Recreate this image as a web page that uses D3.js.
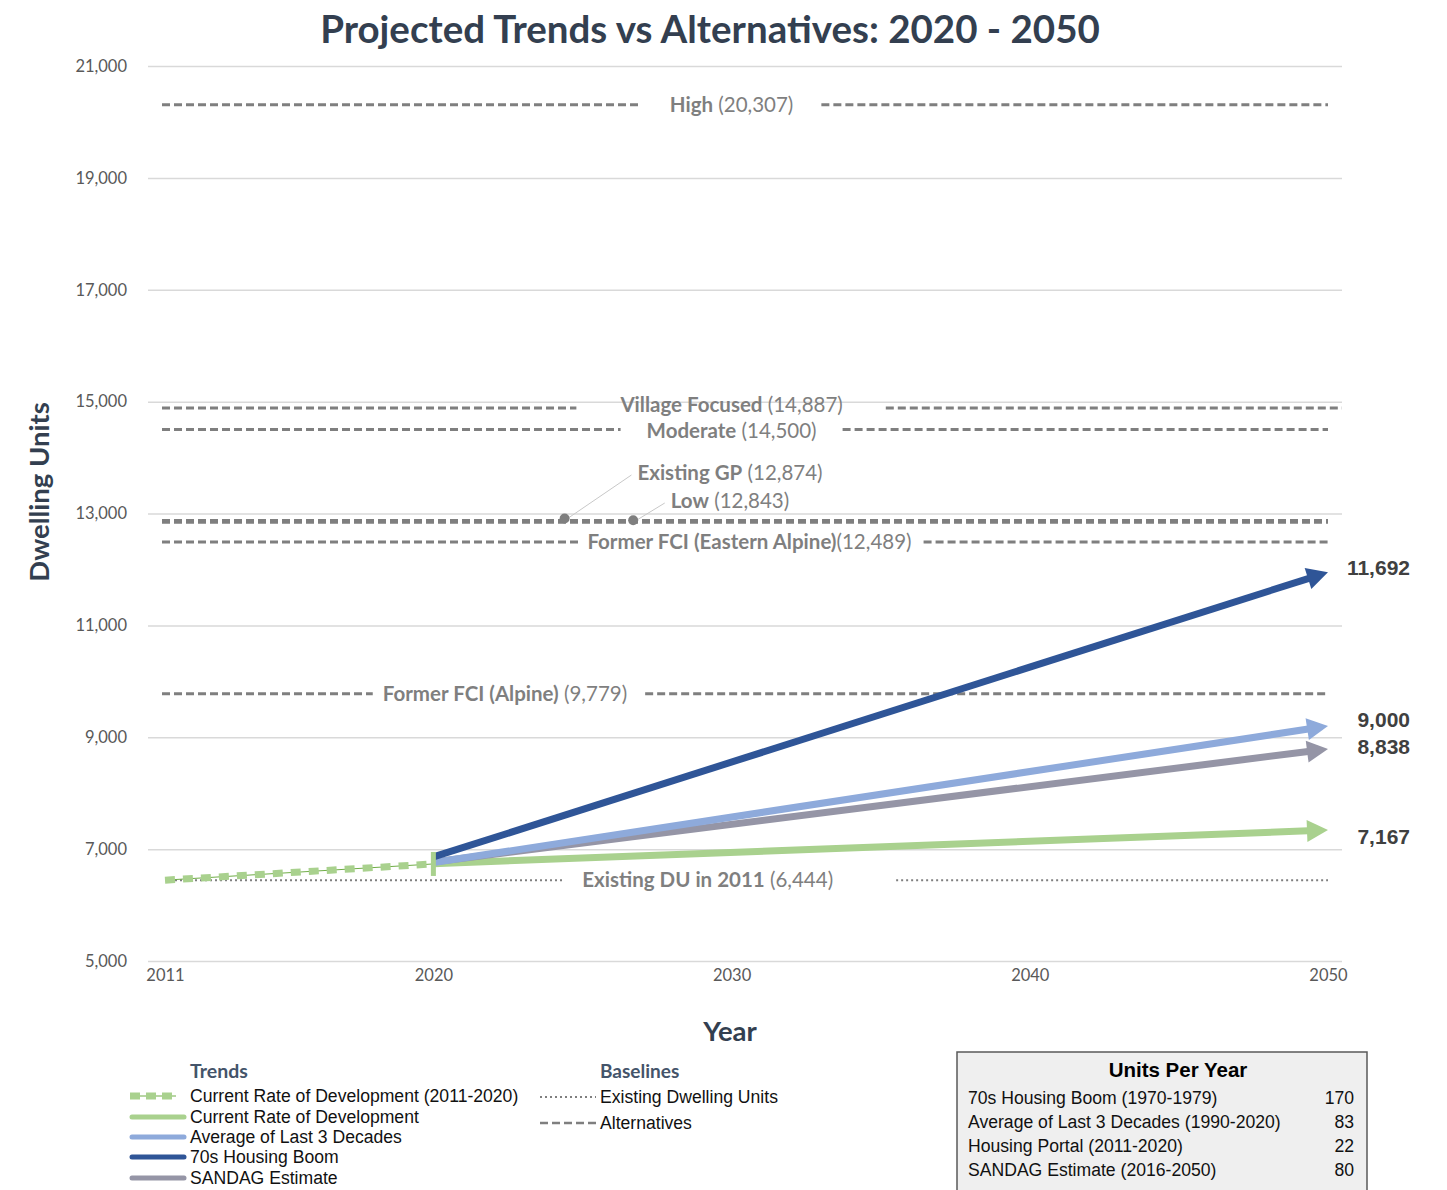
<!DOCTYPE html>
<html>
<head>
<meta charset="utf-8">
<script src="https://cdn.jsdelivr.net/npm/d3@7"></script>
<style>
body { margin: 0; background: #fff; }
svg text { font-family: Lato, "Open Sans", sans-serif; }
.arial { font-family: "Liberation Sans", Arial, sans-serif !important; }
</style>
</head>
<body>
<div id="chart"></div>
<script>
// ---- data ----
var yearTicks = [2011, 2020, 2030, 2040, 2050]
var unitTicks = [5000, 7000, 9000, 11000, 13000, 15000, 17000, 19000, 21000]

var altNames = ['High', 'Village Focused', 'Moderate', 'Existing GP', 'Low', 'Former FCI (Eastern Alpine)', 'Former FCI (Alpine)']
var altValues = [20307, 14887, 14500, 12874, 12843, 12489, 9779]
var altLabels = ['(20,307)', '(14,887)', '(14,500)', '(12,874)', '(12,843)', '(12,489)', '(9,779)']

var existingDU = 6444
var existingLabel = ['Existing DU in 2011', '(6,444)']

// current rate, 2011-2020
var currentYears = [2011, 2020]
var currentValues = [6445, 6735]

// trends, 2020 -> 2050 (drawn bottom to top)
var trendNames = ['Current Rate of Development', 'SANDAG Estimate', 'Average of Last 3 Decades', '70s Housing Boom']
var trendYears = [2020, 2050]
var trendStart = [6740, 6770, 6760, 6860]
var trendEnd = [7340, 8790, 9200, 11950]
var trendEndLabels = ['7,167', '8,838', '9,000', '11,692']

var legendTrends = ['Current Rate of Development (2011-2020)', 'Current Rate of Development', 'Average of Last 3 Decades', '70s Housing Boom', 'SANDAG Estimate']
var legendBaselines = ['Existing Dwelling Units', 'Alternatives']

var rateNames = ['70s Housing Boom (1970-1979)', 'Average of Last 3 Decades (1990-2020)', 'Housing Portal (2011-2020)', 'SANDAG Estimate (2016-2050)']
var rateValues = [170, 83, 22, 80]

// ---- styling ----
var width = 1447, height = 1190
var navy = '#333f50'
var altGray = '#7f7f7f'
var trendColors = ['#a9d18e', '#9595a6', '#8eaadb', '#2f5597']
var legendColors = ['#a9d18e', '#a9d18e', '#8eaadb', '#2f5597', '#9595a6']

// where alternative labels sit (year), a small vertical nudge, and the gap around them (px left, px right)
var altLabelAt = [2030, 2030, 2030, null, null, 2030.6, 2022.4]
var altNudge = [0, -3, 1, 0, 0, 0, 0]
var altGap = [[28, 28], [43, 43], [26, 26], null, null, [8, 12], [10, 18]]
var calloutAt = { 'Existing GP': 2024.4, 'Low': 2026.7 }

var svg = d3.select('#chart').append('svg')
    .attr('width', width)
    .attr('height', height)

var x = d3.scaleLinear().domain([2011, 2050]).range([165, 1328])
var y = d3.scaleLinear().domain([5000, 21000]).range([961, 66])
var gridLeft = 148, gridRight = 1342

// title
svg.append('text')
    .attr('x', 710).attr('y', 30)
    .attr('text-anchor', 'middle').attr('dy', '0.35em')
    .style('font-size', '38.5px').style('font-weight', 700)
    .attr('fill', navy)
    .text('Projected Trends vs Alternatives: 2020 - 2050')

// gridlines + y axis
var yAxis = svg.append('g')
    .attr('transform', 'translate(' + gridLeft + ',0)')
    .call(d3.axisLeft(y).tickValues(unitTicks).tickSize(-(gridRight - gridLeft)).tickPadding(21).tickFormat(d3.format(',')))
yAxis.select('.domain').remove()
yAxis.selectAll('line').attr('stroke', '#d9d9d9').attr('stroke-width', 1.5)
yAxis.selectAll('text').style('font-size', '16.5px').attr('fill', '#595959')

// x axis labels
var xAxis = svg.append('g')
    .attr('transform', 'translate(0,' + y(5000) + ')')
    .call(d3.axisBottom(x).tickValues(yearTicks).tickSize(0).tickPadding(8).tickFormat(d3.format('d')))
xAxis.select('.domain').remove()
xAxis.selectAll('text').style('font-size', '16.5px').attr('fill', '#595959')

// axis titles
svg.append('text')
    .attr('transform', 'translate(39,492) rotate(-90)')
    .attr('text-anchor', 'middle').attr('dy', '0.35em')
    .style('font-size', '27.5px').style('font-weight', 700)
    .attr('fill', navy).text('Dwelling Units')
svg.append('text')
    .attr('x', 730).attr('y', 1031)
    .attr('text-anchor', 'middle').attr('dy', '0.35em')
    .style('font-size', '27.5px').style('font-weight', 700)
    .attr('fill', navy).text('Year')

// label with bold name + normal value
function altText(g, cx, cy, name, val, sep) {
    var t = g.append('text')
        .attr('x', cx).attr('y', cy)
        .attr('text-anchor', 'middle').attr('dy', '0.35em')
        .style('font-size', '20.5px').attr('fill', altGray)
    t.append('tspan').style('font-weight', 700).text(name)
    t.append('tspan').text(sep + val)
    return t
}

// alternatives
var altG = svg.append('g')
altNames.forEach(function (name, i) {
    var yy = y(altValues[i])
    var x0 = 162, x1 = i == 1 ? 1342 : 1328
    var dash = function (a, b) {
        altG.append('line')
            .attr('x1', a).attr('x2', b).attr('y1', yy).attr('y2', yy)
            .attr('stroke', altGray).attr('stroke-width', 3)
            .attr('stroke-dasharray', '8,4')
    }
    if (altLabelAt[i] == null) {
        dash(x0, x1)
        return
    }
    var sep = i == 5 ? '' : ' '
    var t = altText(altG, x(altLabelAt[i]), yy + altNudge[i], name, altLabels[i], sep)
    var bb = t.node().getBBox()
    dash(x0, bb.x - altGap[i][0])
    dash(bb.x + bb.width + altGap[i][1], x1)
})

// callouts for Existing GP / Low
var callouts = [
    { name: 'Existing GP', idx: 3, lx: 730, ly: 473 },
    { name: 'Low', idx: 4, lx: 730, ly: 501 }
]
callouts.forEach(function (c) {
    var t = altText(altG, c.lx, c.ly, c.name, altLabels[c.idx], ' ')
    var bb = t.node().getBBox()
    var px = x(calloutAt[c.name]), py = y(altValues[c.idx])
    altG.append('line')
        .attr('x1', px).attr('y1', py)
        .attr('x2', bb.x - 6).attr('y2', c.ly + 2)
        .attr('stroke', '#c8c8c8').attr('stroke-width', 1)
    altG.append('circle')
        .attr('cx', px).attr('cy', py - 2).attr('r', 5)
        .attr('fill', altGray)
})

// existing dwelling units (dotted)
var exY = y(existingDU)
var exT = altText(altG, x(2029.2), exY, existingLabel[0], existingLabel[1], ' ')
var exB = exT.node().getBBox()
;[[x(2011), exB.x - 18], [exB.x + exB.width + 63, x(2050)]].forEach(function (seg) {
    altG.append('line')
        .attr('x1', seg[0]).attr('x2', seg[1]).attr('y1', exY).attr('y2', exY)
        .attr('stroke', altGray).attr('stroke-width', 2.2)
        .attr('stroke-dasharray', '2,3')
})

// trend arrows
var trendG = svg.append('g')
trendNames.forEach(function (name, i) {
    var ax = x(trendYears[0]), ay = y(trendStart[i])
    var bx = x(trendYears[1]), by = y(trendEnd[i])
    var dx = bx - ax, dy = by - ay
    var len = Math.sqrt(dx * dx + dy * dy)
    var ux = dx / len, uy = dy / len
    var headLen = 21, headW = 11
    var baseX = bx - ux * headLen, baseY = by - uy * headLen
    trendG.append('line')
        .attr('x1', ax).attr('y1', ay)
        .attr('x2', baseX + ux * 1).attr('y2', baseY + uy * 1)
        .attr('stroke', trendColors[i]).attr('stroke-width', 7)
    trendG.append('path')
        .attr('d', 'M' + bx + ',' + by +
            'L' + (baseX - uy * headW) + ',' + (baseY + ux * headW) +
            'L' + (baseX + uy * headW) + ',' + (baseY - ux * headW) + 'Z')
        .attr('fill', trendColors[i])
})

// end value labels
var endLabelY = [837, 747, 720, 568]
trendEndLabels.forEach(function (lab, i) {
    svg.append('text').attr('class', 'arial')
        .attr('x', 1410).attr('y', endLabelY[i])
        .attr('text-anchor', 'end').attr('dy', '0.35em')
        .style('font-size', '21px').style('font-weight', 700)
        .attr('fill', '#404040').text(lab)
})

// current rate 2011-2020 (dashed squares)
var line = d3.line().x(function (d) { return x(d[0]) }).y(function (d) { return y(d[1]) })
var curData = currentYears.map(function (yr, i) { return [yr, currentValues[i]] })
svg.append('path').datum(curData)
    .attr('d', line).attr('fill', 'none')
    .attr('stroke', '#70ad47').attr('stroke-width', 1)
svg.append('path').datum(curData)
    .attr('d', line).attr('fill', 'none')
    .attr('stroke', '#a9d18e').attr('stroke-width', 7)
    .attr('stroke-dasharray', '10,8')
svg.append('rect')
    .attr('x', x(2020) - 2.5).attr('y', y(currentValues[1]) - 12)
    .attr('width', 5).attr('height', 24)
    .attr('fill', '#a9d18e')

// ---- legend ----
var leg = svg.append('g')
leg.append('text')
    .attr('x', 190).attr('y', 1071).attr('dy', '0.35em')
    .style('font-size', '19.5px').style('font-weight', 700)
    .attr('fill', '#44546a').text('Trends')
var legY = [1096, 1117, 1137, 1157, 1178]
legendTrends.forEach(function (name, i) {
    var ly = legY[i]
    if (i == 0) {
        leg.append('line')
            .attr('x1', 130).attr('x2', 176).attr('y1', ly).attr('y2', ly)
            .attr('stroke', '#70ad47').attr('stroke-width', 1)
        leg.append('line')
            .attr('x1', 130).attr('x2', 176).attr('y1', ly).attr('y2', ly)
            .attr('stroke', legendColors[i]).attr('stroke-width', 7)
            .attr('stroke-dasharray', '10,6')
    } else {
        leg.append('line')
            .attr('x1', 132).attr('x2', 184).attr('y1', ly).attr('y2', ly)
            .attr('stroke', legendColors[i]).attr('stroke-width', 5)
            .attr('stroke-linecap', 'round')
    }
    leg.append('text').attr('class', 'arial')
        .attr('x', 190).attr('y', ly).attr('dy', '0.35em')
        .style('font-size', '17.6px').attr('fill', '#111').text(name)
})

leg.append('text')
    .attr('x', 600).attr('y', 1071).attr('dy', '0.35em')
    .style('font-size', '19px').style('font-weight', 700)
    .attr('fill', '#44546a').text('Baselines')
var baseY = [1097, 1123]
legendBaselines.forEach(function (name, i) {
    var ly = baseY[i]
    leg.append('line')
        .attr('x1', 540).attr('x2', 596).attr('y1', ly).attr('y2', ly)
        .attr('stroke', altGray)
        .attr('stroke-width', i == 0 ? 2 : 2.5)
        .attr('stroke-dasharray', i == 0 ? '2,3' : '8,4')
    leg.append('text').attr('class', 'arial')
        .attr('x', 600).attr('y', ly).attr('dy', '0.35em')
        .style('font-size', '17.6px').attr('fill', '#111').text(name)
})

// ---- units per year box ----
var box = svg.append('g')
box.append('rect')
    .attr('x', 957).attr('y', 1052).attr('width', 410).attr('height', 150)
    .attr('fill', '#efefef').attr('stroke', '#595959').attr('stroke-width', 1.5)
box.append('text').attr('class', 'arial')
    .attr('x', 1178).attr('y', 1070).attr('dy', '0.35em')
    .attr('text-anchor', 'middle')
    .style('font-size', '20.5px').style('font-weight', 700)
    .attr('fill', '#000').text('Units Per Year')
rateNames.forEach(function (name, i) {
    var ry = 1098 + i * 24
    box.append('text').attr('class', 'arial')
        .attr('x', 968).attr('y', ry).attr('dy', '0.35em')
        .style('font-size', '17.6px').attr('fill', '#111').text(name)
    box.append('text').attr('class', 'arial')
        .attr('x', 1354).attr('y', ry).attr('dy', '0.35em')
        .attr('text-anchor', 'end')
        .style('font-size', '17.6px').attr('fill', '#111').text(rateValues[i])
})
</script>
</body>
</html>
